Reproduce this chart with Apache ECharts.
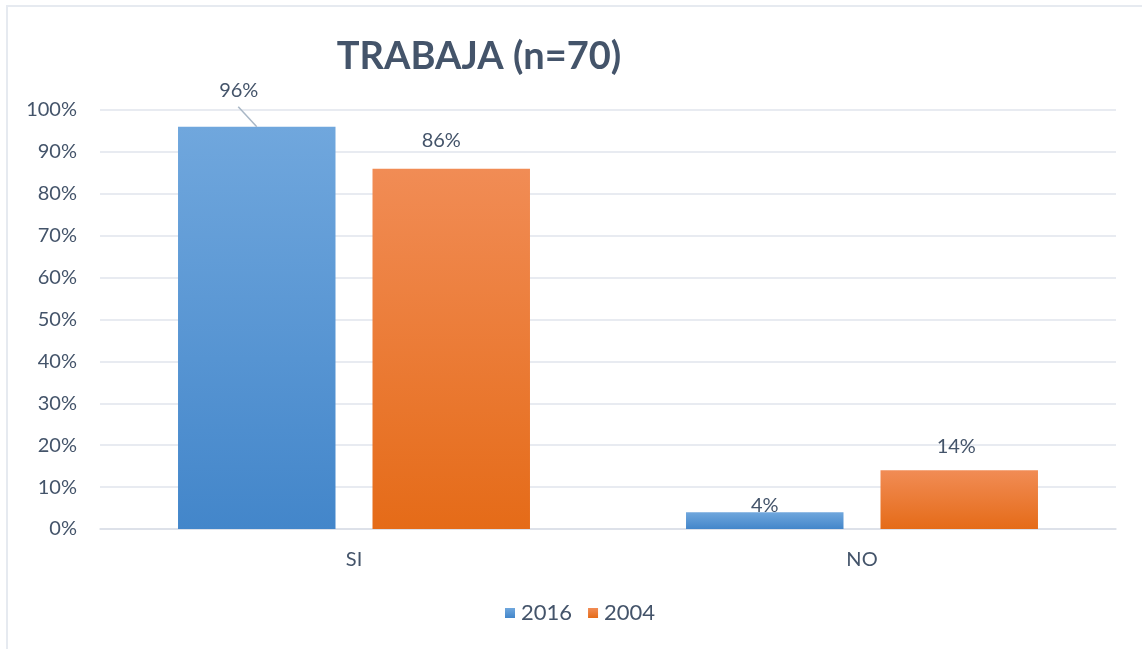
<!DOCTYPE html>
<html>
<head>
<meta charset="utf-8">
<script src="https://cdn.jsdelivr.net/npm/echarts@6/dist/echarts.min.js"></script>
<style>
  html, body { margin: 0; padding: 0; background: #fff; }
  #frame {
    position: absolute; left: 6px; top: 5px; width: 1136px; height: 644px;
    border-left: 2px solid #e6eaf0; border-top: 2px solid #e6eaf0;
    box-sizing: border-box;
  }
  #chart { position: absolute; left: 0; top: 0; width: 1142px; height: 649px; }
</style>
</head>
<body>
<div id="frame"></div>
<div id="chart"></div>
<script>
const categories = ['SI', 'NO']
const years = ['2016', '2004']
const values2016 = [96, 4]
const values2004 = [86, 14]
const yTicks = [0, 10, 20, 30, 40, 50, 60, 70, 80, 90, 100]

// label nudges, per series and bar (Excel labels were moved by hand)
const labelShift = [
    [[-18, -21], [0, 8]],
    [[-10, -13], [-3, -9]]
]

const textColor = '#44546a'
const font = 'Lato, "Open Sans", sans-serif'

const grad = (top, bottom) => new echarts.graphic.LinearGradient(0, 0, 0, 1, [
    { offset: 0, color: top },
    { offset: 1, color: bottom }
])

const makeSeries = (name, values, idx, top, bottom) => ({
    name: name,
    type: 'bar',
    barWidth: '31%',
    barGap: '23.5%',
    data: values,
    itemStyle: { color: grad(top, bottom) },
    label: {
        show: true,
        position: 'top',
        distance: 5,
        formatter: '{c}%',
        color: textColor,
        fontFamily: font,
        fontSize: 20
    },
    labelLayout: (p) => ({ dx: labelShift[idx][p.dataIndex][0], dy: labelShift[idx][p.dataIndex][1] })
})

const chart = echarts.init(document.getElementById('chart'))

chart.setOption({
    animation: false,
    title: {
        text: 'TRABAJA (n=70)',
        left: 474,
        top: 33,
        textAlign: 'center',
        textStyle: { color: textColor, fontFamily: font, fontSize: 38, fontWeight: 'bold' }
    },
    legend: {
        data: years,
        bottom: 20,
        left: 500,
        itemWidth: 10,
        itemHeight: 10,
        itemGap: 16,
        icon: 'rect',
        textStyle: { color: textColor, fontFamily: font, fontSize: 22, padding: [0, 0, 0, 1] }
    },
    grid: { left: 100, right: 26, top: 110, bottom: 120 },
    xAxis: {
        type: 'category',
        data: categories,
        axisLine: { lineStyle: { color: '#d9dee6', width: 1.5 } },
        axisTick: { show: false },
        axisLabel: { color: textColor, fontFamily: font, fontSize: 20, margin: 21 }
    },
    yAxis: {
        type: 'value',
        min: yTicks[0],
        max: yTicks[yTicks.length - 1],
        interval: 10,
        axisLine: { show: false },
        axisTick: { show: false },
        splitLine: { lineStyle: { color: '#e1e5ec', width: 1.5 } },
        axisLabel: { color: textColor, fontFamily: font, fontSize: 20, margin: 23, formatter: '{value}%' }
    },
    series: [
        makeSeries(years[0], values2016, 0, '#70a7dd', '#4386ca'),
        makeSeries(years[1], values2004, 1, '#f18c55', '#e56b18')
    ]
})

// leader line from the moved "96%" label to the top of its bar
const bar = chart.getModel().getSeriesByIndex(0).getData().getItemLayout(0)
const endX = bar.x + bar.width / 2
const endY = bar.y + Math.min(bar.height, 0)
chart.setOption({
    graphic: [{
        type: 'line',
        shape: { x1: endX - 18.5, y1: endY - 20, x2: endX, y2: endY },
        style: { stroke: '#a9b7c6', lineWidth: 1.5 },
        z: 10
    }]
})
</script>
</body>
</html>
